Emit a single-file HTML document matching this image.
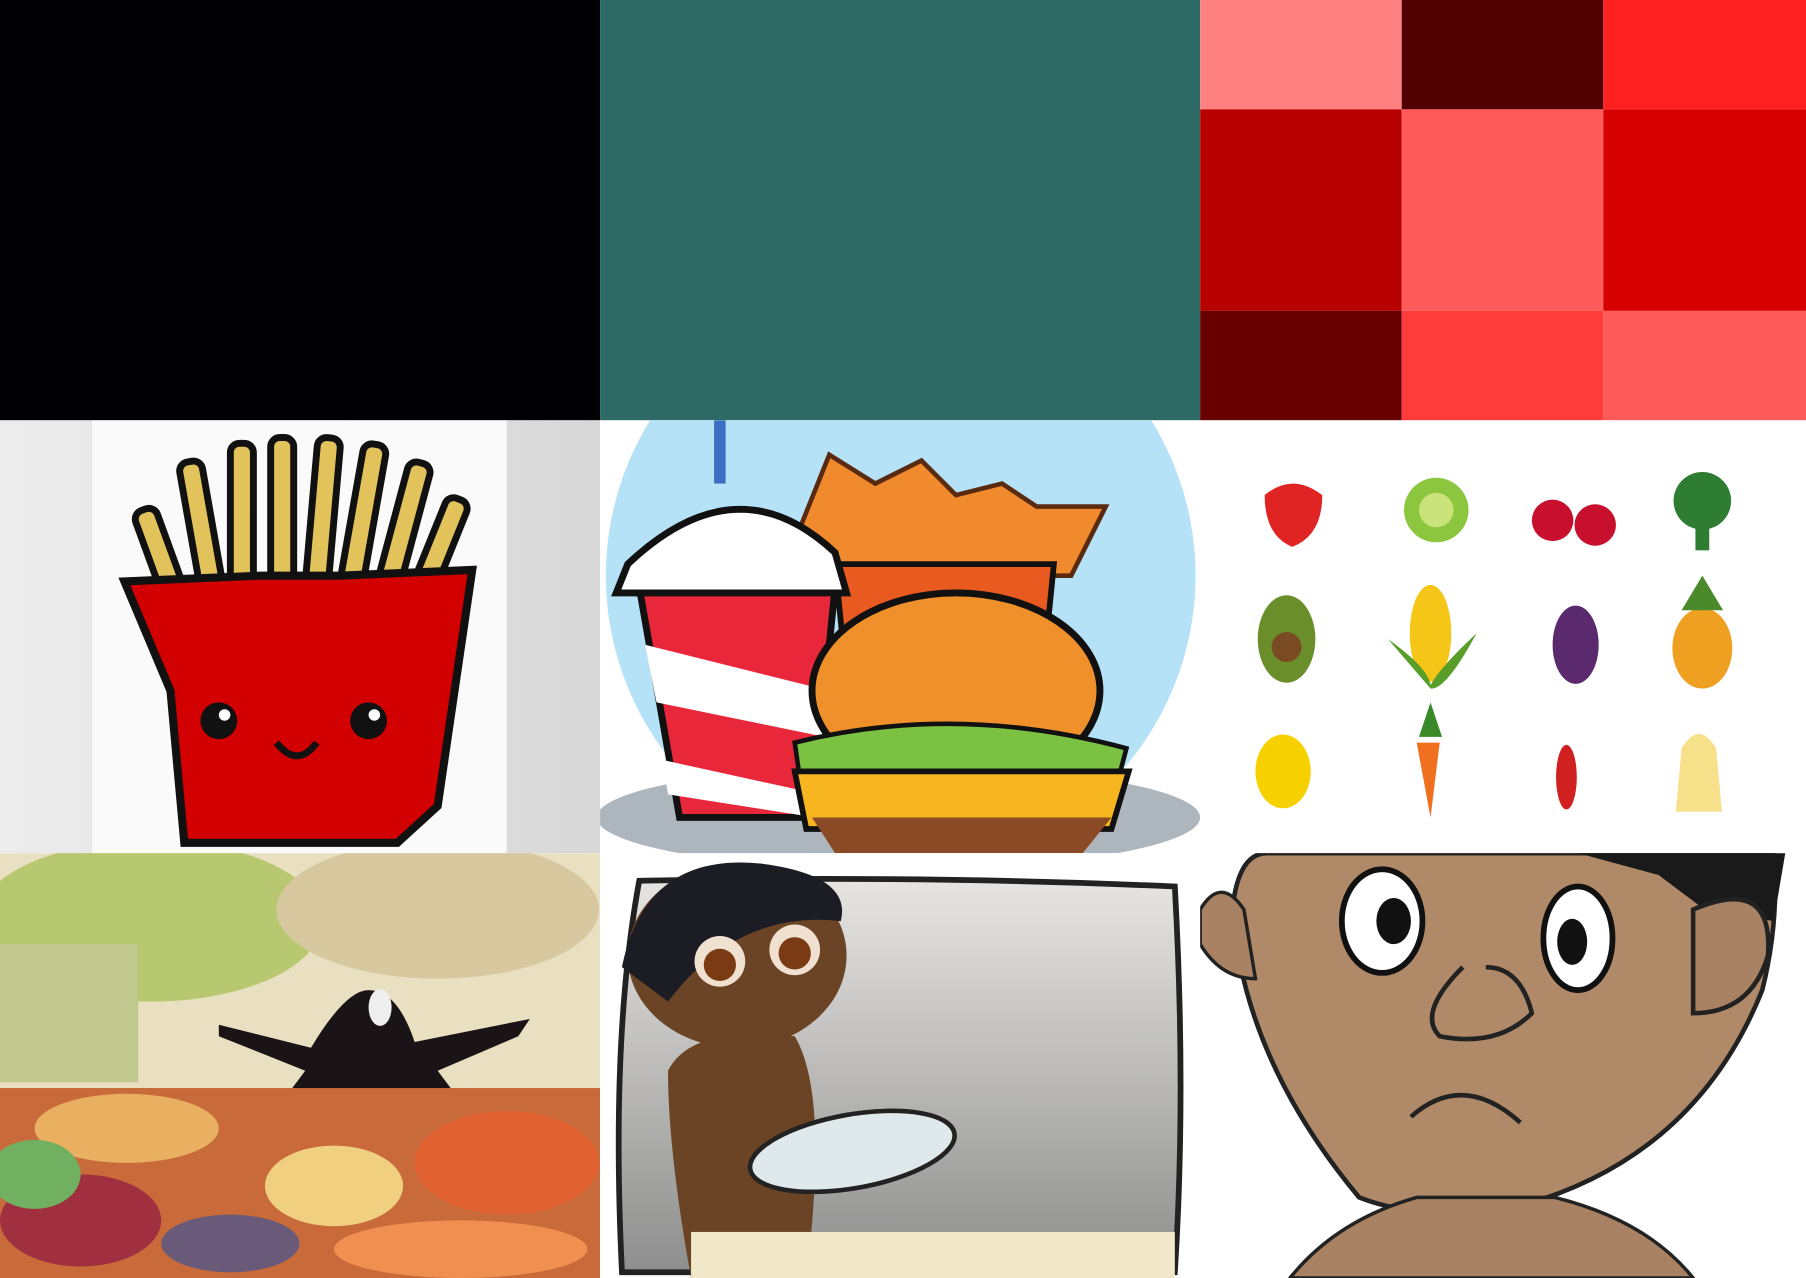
<!DOCTYPE html>
<html><head><meta charset="utf-8"><style>
html,body{margin:0;padding:0;background:#fff;width:1806px;height:1278px;overflow:hidden}
svg{display:block}
</style></head><body>
<svg width="1806" height="1278" viewBox="0 0 1568 1110" preserveAspectRatio="none" xmlns="http://www.w3.org/2000/svg">
<defs>
<clipPath id="c4"><rect x="0" y="365" width="521" height="376"/></clipPath>
<clipPath id="c5"><rect x="521" y="365" width="521" height="376"/></clipPath>
<clipPath id="c6"><rect x="1042" y="365" width="526" height="376"/></clipPath>
<clipPath id="c7"><rect x="0" y="741" width="521" height="369"/></clipPath>
<clipPath id="c8"><rect x="521" y="741" width="521" height="369"/></clipPath>
<clipPath id="c9"><rect x="1042" y="741" width="526" height="369"/></clipPath>
<linearGradient id="gr" x1="0" y1="0" x2="0" y2="1"><stop offset="0" stop-color="#e6e5e2"/><stop offset="1" stop-color="#8e8e8e"/></linearGradient>
<linearGradient id="gl" x1="0" y1="0" x2="1" y2="0"><stop offset="0" stop-color="#ececec"/><stop offset="1" stop-color="#d8d8d8"/></linearGradient>
</defs>
<!-- top row -->
<rect x="0" y="0" width="521" height="365" fill="#010103"/>
<rect x="521" y="0" width="521" height="365" fill="#2d6a65"/>
<g>
<rect x="1042" y="0" width="175" height="95" fill="#ff8080"/>
<rect x="1217" y="0" width="175" height="95" fill="#500000"/>
<rect x="1392" y="0" width="176" height="95" fill="#ff2020"/>
<rect x="1042" y="95" width="175" height="175" fill="#b70000"/>
<rect x="1217" y="95" width="175" height="175" fill="#ff5b5b"/>
<rect x="1392" y="95" width="176" height="175" fill="#d70000"/>
<rect x="1042" y="270" width="175" height="95" fill="#680000"/>
<rect x="1217" y="270" width="175" height="95" fill="#ff3b3b"/>
<rect x="1392" y="270" width="176" height="95" fill="#ff5a5a"/>
</g>
<!-- fries -->
<g clip-path="url(#c4)">
<rect x="0" y="365" width="521" height="376" fill="url(#gl)"/>
<rect x="80" y="365" width="360" height="376" fill="#fafafa"/>
<g stroke="#111" stroke-width="6" fill="#e2c25a">
<rect x="130" y="440" width="20" height="90" rx="8" transform="rotate(-20 140 485)"/>
<rect x="165" y="400" width="20" height="120" rx="8" transform="rotate(-10 175 460)"/>
<rect x="200" y="385" width="20" height="130" rx="8"/>
<rect x="235" y="380" width="20" height="135" rx="8"/>
<rect x="270" y="380" width="20" height="135" rx="8" transform="rotate(5 280 450)"/>
<rect x="305" y="385" width="20" height="130" rx="8" transform="rotate(10 315 450)"/>
<rect x="340" y="400" width="20" height="120" rx="8" transform="rotate(15 350 460)"/>
<rect x="370" y="430" width="20" height="95" rx="8" transform="rotate(22 380 480)"/>
</g>
<path d="M108 505 L225 500 L295 500 L410 495 L380 700 L345 732 L160 732 L148 600 Z" fill="#d20000" stroke="#111" stroke-width="7"/>
<circle cx="190" cy="626" r="16" fill="#111"/><circle cx="195" cy="621" r="5" fill="#fff"/>
<circle cx="320" cy="626" r="16" fill="#111"/><circle cx="325" cy="621" r="5" fill="#fff"/>
<path d="M240 645 Q258 668 275 645" stroke="#111" stroke-width="6" fill="none"/>
</g>
<!-- fast food -->
<g clip-path="url(#c5)">
<rect x="521" y="365" width="521" height="376" fill="#fff"/>
<circle cx="782" cy="500" r="256" fill="#b5e2f7"/>
<ellipse cx="780" cy="710" rx="262" ry="45" fill="#aeb6bd"/>
<path d="M690 470 L720 395 L760 420 L800 400 L830 430 L870 420 L900 440 L960 440 L930 500 L700 500 Z" fill="#f08a2c" stroke="#5a2a10" stroke-width="4"/>
<path d="M725 490 L915 490 L900 640 L740 640 Z" fill="#e85a20" stroke="#111" stroke-width="5"/>
<path d="M555 510 L725 510 L705 710 L590 710 Z" fill="#e8283a" stroke="#111" stroke-width="6"/>
<path d="M560 560 L720 600 L716 640 L570 610 Z M575 660 L712 690 L708 710 L580 690Z" fill="#fff"/>
<path d="M545 490 Q640 400 725 480 L735 515 L535 515 Z" fill="#fff" stroke="#111" stroke-width="6"/>
<rect x="620" y="365" width="10" height="55" fill="#3a6fc4"/>
<ellipse cx="830" cy="600" rx="125" ry="85" fill="#f0902a" stroke="#111" stroke-width="6"/>
<path d="M690 645 Q830 610 978 650 L970 680 L695 680 Z" fill="#7cc242" stroke="#111" stroke-width="4"/>
<path d="M690 670 L980 670 L965 720 L700 720 Z" fill="#f7b520" stroke="#111" stroke-width="5"/>
<path d="M705 710 L965 710 L940 741 L725 741 Z" fill="#8b4a26"/>
</g>
<!-- fruits -->
<g clip-path="url(#c6)">
<rect x="1042" y="365" width="526" height="376" fill="#fff"/>
<path d="M1098 430 Q1122 410 1148 430 Q1148 465 1122 475 Q1098 465 1098 430Z" fill="#e02424"/>
<circle cx="1247" cy="443" r="28" fill="#8cc63f"/><circle cx="1247" cy="443" r="15" fill="#c9e27a"/>
<circle cx="1348" cy="452" r="18" fill="#c8102e"/><circle cx="1385" cy="456" r="18" fill="#c8102e"/>
<circle cx="1478" cy="435" r="25" fill="#2e7d32"/><rect x="1472" y="450" width="12" height="28" fill="#2e7d32"/>
<ellipse cx="1117" cy="555" rx="25" ry="38" fill="#6a8f2a"/><circle cx="1117" cy="562" r="13" fill="#7a4a22"/>
<ellipse cx="1242" cy="550" rx="18" ry="42" fill="#f5c518"/><path d="M1205 555 Q1240 580 1242 595 Q1250 580 1282 550 Q1255 600 1242 598Z" fill="#5a9e2a"/>
<ellipse cx="1368" cy="560" rx="20" ry="34" fill="#5b2a6e"/>
<ellipse cx="1478" cy="563" rx="26" ry="35" fill="#f0a020"/><path d="M1460 530 L1478 500 L1496 530Z" fill="#4a8a2a"/>
<ellipse cx="1114" cy="670" rx="24" ry="32" fill="#f7d000"/>
<path d="M1230 645 L1250 645 L1242 710Z" fill="#f07020"/><path d="M1232 640 L1242 610 L1252 640Z" fill="#3a8a2a"/>
<ellipse cx="1360" cy="675" rx="9" ry="28" fill="#d02020"/>
<path d="M1460 650 Q1475 625 1490 650 L1495 705 L1455 705Z" fill="#f7e08a"/>
</g>
<!-- banquet -->
<g clip-path="url(#c7)">
<rect x="0" y="741" width="521" height="369" fill="#e8e0c0"/>
<ellipse cx="130" cy="800" rx="150" ry="70" fill="#b8c870"/>
<ellipse cx="380" cy="790" rx="140" ry="60" fill="#d8c8a0"/>
<rect x="0" y="820" width="120" height="120" fill="#c0c890"/>
<path d="M190 890 L270 910 Q300 860 320 860 Q345 860 360 905 L460 885 L450 900 L380 930 L395 950 L250 950 L265 930 L190 900Z" fill="#1a1416"/>
<ellipse cx="330" cy="875" rx="10" ry="16" fill="#eee"/>
<rect x="0" y="945" width="521" height="165" fill="#c86a3a"/>
<ellipse cx="110" cy="980" rx="80" ry="30" fill="#e8b060"/>
<ellipse cx="290" cy="1030" rx="60" ry="35" fill="#f0d080"/>
<ellipse cx="440" cy="1010" rx="80" ry="45" fill="#e06030"/>
<ellipse cx="70" cy="1060" rx="70" ry="40" fill="#a03040"/>
<ellipse cx="200" cy="1080" rx="60" ry="25" fill="#6a5a7a"/>
<ellipse cx="400" cy="1085" rx="110" ry="25" fill="#f09050"/>
<ellipse cx="30" cy="1020" rx="40" ry="30" fill="#70b060"/>
</g>
<!-- boy with plate -->
<g clip-path="url(#c8)">
<rect x="521" y="741" width="521" height="369" fill="#fff"/>
<path d="M555 765 Q800 760 1020 770 Q1030 950 1020 1105 L540 1105 Q530 900 555 765Z" fill="url(#gr)" stroke="#222" stroke-width="5"/>
<path d="M580 930 Q600 890 690 900 Q720 950 700 1110 L600 1110 Q580 1000 580 930Z" fill="#6b4426"/>
<ellipse cx="640" cy="830" rx="95" ry="80" fill="#6b4426"/>
<path d="M540 840 Q560 740 660 750 Q740 760 730 800 Q640 790 580 870 Z" fill="#1c1c24"/>
<circle cx="625" cy="835" r="22" fill="#f0e0d0"/><circle cx="625" cy="838" r="14" fill="#7a3a14"/>
<circle cx="690" cy="825" r="22" fill="#f0e0d0"/><circle cx="690" cy="828" r="14" fill="#7a3a14"/>
<ellipse cx="740" cy="1000" rx="90" ry="32" fill="#dfe9ec" stroke="#222" stroke-width="4" transform="rotate(-10 740 1000)"/>
<rect x="600" y="1070" width="420" height="40" fill="#f0e8c8"/>
</g>
<!-- face -->
<g clip-path="url(#c9)">
<rect x="1042" y="741" width="526" height="369" fill="#fff"/>
<path d="M1070 790 Q1075 741 1100 741 L1540 741 Q1545 800 1530 860 Q1470 1010 1310 1050 Q1230 1060 1180 1040 Q1080 920 1070 790Z" fill="#b08a68" stroke="#222" stroke-width="4"/>
<path d="M1370 741 L1550 741 L1540 800 L1480 790 L1440 760 Z" fill="#1a1a1a"/>
<path d="M1042 790 Q1060 760 1080 790 L1090 850 Q1060 850 1042 820Z" fill="#a88262" stroke="#222" stroke-width="3"/>
<path d="M1470 790 Q1540 760 1535 830 Q1520 880 1470 880Z" fill="#a88262" stroke="#222" stroke-width="4"/>
<path d="M1120 1110 Q1160 1060 1230 1040 L1350 1040 Q1430 1060 1470 1110Z" fill="#a88262" stroke="#222" stroke-width="3"/>
<ellipse cx="1200" cy="800" rx="35" ry="45" fill="#fff" stroke="#111" stroke-width="5"/><ellipse cx="1210" cy="800" rx="15" ry="20" fill="#111"/>
<ellipse cx="1370" cy="815" rx="30" ry="45" fill="#fff" stroke="#111" stroke-width="5"/><ellipse cx="1365" cy="818" rx="13" ry="20" fill="#111"/>
<path d="M1270 840 Q1230 880 1250 900 Q1300 910 1330 880 Q1320 840 1290 840" fill="none" stroke="#222" stroke-width="4"/>
<path d="M1225 970 Q1270 930 1320 975" fill="none" stroke="#222" stroke-width="4"/>
</g>
</svg>
</body></html>
